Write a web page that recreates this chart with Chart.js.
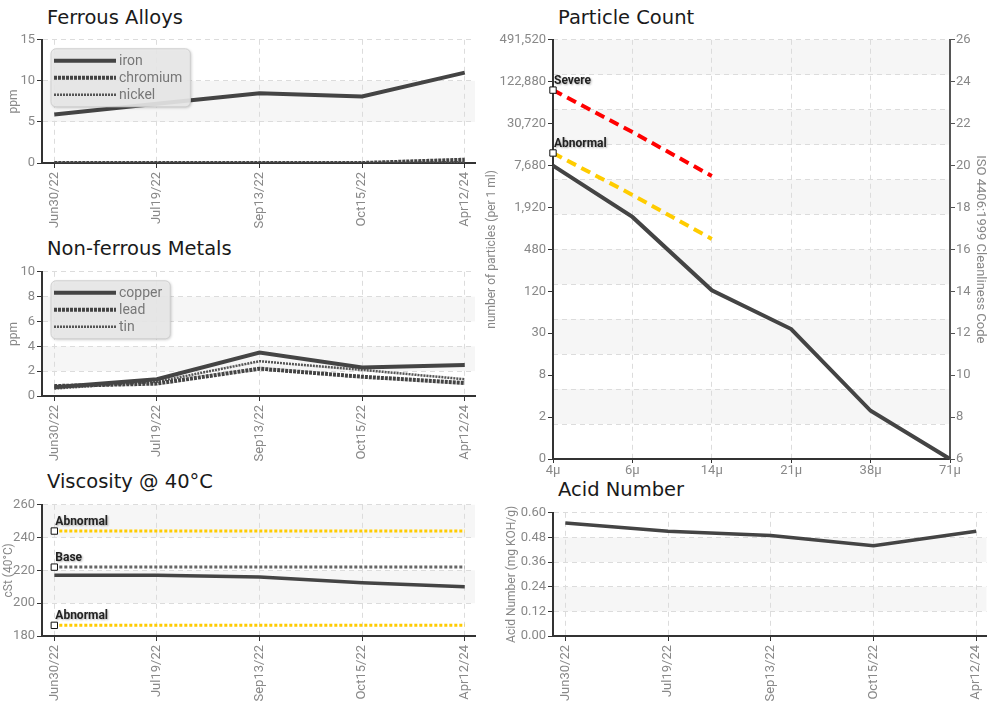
<!DOCTYPE html>
<html>
<head>
<meta charset="utf-8">
<title>Oil analysis trends</title>
<script src="https://cdn.jsdelivr.net/npm/chart.js@4.4.1/dist/chart.umd.min.js"></script>
<style>
body{margin:0;background:#fff;}
#page{position:relative;width:996px;height:714px;overflow:hidden;}
.ttl{position:absolute;font:19.5px "DejaVu Sans",sans-serif;color:#1a1a1a;line-height:20px;white-space:nowrap;}
canvas{position:absolute;}
</style>
</head>
<body>
<div id="page">
  <div class="ttl" style="left:47px;top:8px">Ferrous Alloys</div>
  <div class="ttl" style="left:47px;top:239px">Non-ferrous Metals</div>
  <div class="ttl" style="left:47px;top:472px">Viscosity @ 40°C</div>
  <div class="ttl" style="left:558px;top:8px">Particle Count</div>
  <div class="ttl" style="left:558px;top:480px">Acid Number</div>

  <canvas id="ferrous" width="490" height="200" style="left:0;top:30px"></canvas>
  <canvas id="nonferrous" width="490" height="200" style="left:0;top:262px"></canvas>
  <canvas id="viscosity" width="490" height="219" style="left:0;top:495px"></canvas>
  <canvas id="particle" width="526" height="450" style="left:470px;top:30px"></canvas>
  <canvas id="acid" width="526" height="211" style="left:470px;top:503px"></canvas>
</div>
<script>
// sample dates
var dates = ['Jun30/22', 'Jul19/22', 'Sep13/22', 'Oct15/22', 'Apr12/24'];

// ferrous alloys, ppm
var iron = [5.9, 7.2, 8.5, 8.1, 11.0];
var chromium = [0, 0, 0, 0, 0.4];
var nickel = [0, 0, 0, 0, 0.1];

// non-ferrous metals, ppm
var copper = [0.7, 1.35, 3.5, 2.3, 2.5];
var lead = [0.8, 1.0, 2.2, 1.55, 1.05];
var tin = [0.6, 1.15, 2.8, 2.1, 1.35];

// viscosity @ 40C, cSt
var viscosity = [217, 217, 216, 212.5, 210];
var viscHigh = [244, 244, 244, 244, 244];
var viscBase = [222, 222, 222, 222, 222];
var viscLow = [186.5, 186.5, 186.5, 186.5, 186.5];

// acid number, mg KOH/g
var acid = [0.55, 0.51, 0.49, 0.44, 0.51];

// particle count (values in ISO 4406 code units)
var sizes = ['4μ', '6μ', '14μ', '21μ', '38μ', '71μ'];
var particles = [20.0, 17.55, 14.05, 12.2, 8.3, 6.0];
var severe = [23.6, 21.6, 19.5];
var abnormal = [20.6, 18.6, 16.5];
var countLabels = ['0', '2', '8', '30', '120', '480', '1,920', '7,680', '30,720', '122,880', '491,520'];

var NARROW = 'Roboto,"Liberation Sans",sans-serif';
Chart.defaults.font.family = NARROW;
Chart.defaults.font.size = 13;
Chart.defaults.color = '#888';
Chart.defaults.animation = false;
Chart.defaults.responsive = false;
Chart.defaults.plugins.legend.display = false;
Chart.defaults.plugins.tooltip.enabled = false;
Chart.defaults.elements.line.tension = 0;
Chart.defaults.elements.point.radius = 0;

var GRID = '#dcdcdc';

// alternate grey bands between grid lines
var bands = {
  id: 'bands',
  beforeDraw: function(chart, args, opts) {
    var s = chart.scales[opts.scale || 'y'];
    var a = chart.chartArea, ctx = chart.ctx;
    ctx.save();
    ctx.fillStyle = '#f6f6f6';
    for (var i = 1; i + 1 < s.ticks.length; i += 2) {
      var y1 = s.getPixelForValue(s.ticks[i].value);
      var y2 = s.getPixelForValue(s.ticks[i + 1].value);
      ctx.fillRect(a.left, y2, a.right - a.left, y1 - y2);
    }
    ctx.restore();
  }
};

// legend box inside the plot
var boxLegend = {
  id: 'boxLegend',
  afterDatasetsDraw: function(chart, args, opts) {
    if (!opts.show) return;
    var ctx = chart.ctx, a = chart.chartArea;
    var items = chart.data.datasets;
    ctx.save();
    ctx.font = '14px ' + NARROW;
    var tw = 0;
    items.forEach(function(d) { tw = Math.max(tw, ctx.measureText(d.label).width); });
    var x = a.left + 9, y = a.top + 9, w = 68 + tw + 8, h = 24 + (items.length - 1) * 17;
    ctx.shadowColor = 'rgba(0,0,0,0.25)';
    ctx.shadowBlur = 3; ctx.shadowOffsetX = 1; ctx.shadowOffsetY = 1;
    ctx.beginPath();
    ctx.roundRect(x, y, w, h, 5);
    ctx.fillStyle = 'rgba(234,234,234,0.9)';
    ctx.fill();
    ctx.shadowColor = 'transparent';
    ctx.strokeStyle = '#cfcfcf';
    ctx.lineWidth = 1;
    ctx.stroke();
    items.forEach(function(d, i) {
      var ly = y + 12 + i * 17;
      ctx.beginPath();
      ctx.setLineDash(d.borderDash || []);
      ctx.lineWidth = d.borderWidth;
      ctx.strokeStyle = d.borderColor;
      ctx.moveTo(x + 3, ly);
      ctx.lineTo(x + 65, ly);
      ctx.stroke();
      ctx.setLineDash([]);
      ctx.fillStyle = '#777';
      ctx.textBaseline = 'middle';
      ctx.fillText(d.label, x + 68, ly + 1);
    });
    ctx.restore();
  }
};

// names of the limit lines, written at their first point
var limitLabels = {
  id: 'limitLabels',
  afterDatasetsDraw: function(chart) {
    var ctx = chart.ctx;
    chart.data.datasets.forEach(function(ds, i) {
      if (!ds.limit) return;
      var p = chart.getDatasetMeta(i).data[0];
      ctx.save();
      ctx.font = 'bold 12px ' + NARROW;
      ctx.fillStyle = '#222';
      ctx.shadowColor = 'rgba(0,0,0,0.3)';
      ctx.shadowBlur = 2; ctx.shadowOffsetX = 1; ctx.shadowOffsetY = 1;
      ctx.textBaseline = 'bottom';
      ctx.fillText(ds.label, p.x + 1, p.y - 3);
      ctx.restore();
    });
  }
};

function xy(arr) {
  return arr.map(function(v, i) { return {x: i, y: v}; });
}

function firstPoint(ctx) { return ctx.dataIndex === 0 ? 4.5 : 0; }

function limitLine(label, arr, color, width, dash, axis) {
  return {
    label: label, data: arr, limit: true, yAxisID: axis,
    borderColor: color, borderWidth: width, borderDash: dash,
    pointRadius: firstPoint, pointStyle: 'rect',
    pointBackgroundColor: '#fff', pointBorderColor: '#111', pointBorderWidth: 1
  };
}

function dateAxis(h) {
  return {
    type: 'linear', min: -0.12, max: 4.1,
    afterFit: function(s) { s.height = h; },
    ticks: {
      stepSize: 1, includeBounds: false, autoSkip: false,
      minRotation: 90, maxRotation: 90, padding: 4,
      callback: function(v) { return dates[v]; }
    },
    grid: { color: GRID, tickColor: '#333', tickLength: 5 },
    border: { color: '#333', width: 2, dash: [5, 4] }
  };
}

function valueAxis(min, max, step, title, titlePad, width, fmt) {
  var ax = {
    min: min, max: max,
    afterFit: function(s) { s.width = width; },
    ticks: { stepSize: step, padding: 2 },
    title: { display: true, text: title, font: { size: 12 }, padding: { top: titlePad, bottom: 0 } },
    grid: { color: GRID, tickColor: '#333', tickLength: 5 },
    border: { color: '#333', width: 2, dash: [5, 4] }
  };
  if (fmt) ax.ticks.callback = fmt;
  return ax;
}

function trendChart(id, datasets, yAxis, xHeight, legend, padRight) {
  return new Chart(document.getElementById(id), {
    type: 'line',
    data: { datasets: datasets },
    options: {
      layout: { padding: { top: 9, right: padRight } },
      scales: { x: dateAxis(xHeight), y: yAxis },
      plugins: { bands: { scale: 'y' }, boxLegend: { show: legend } }
    },
    plugins: [bands, boxLegend, limitLabels]
  });
}

trendChart('ferrous', [
  { label: 'iron', data: xy(iron), borderColor: '#444', borderWidth: 4 },
  { label: 'chromium', data: xy(chromium), borderColor: '#444', borderWidth: 4, borderDash: [3, 1] },
  { label: 'nickel', data: xy(nickel), borderColor: '#555', borderWidth: 2.5, borderDash: [2, 1] }
], valueAxis(0, 15, 5, 'ppm', 7, 42), 67, true, 15);

trendChart('nonferrous', [
  { label: 'copper', data: xy(copper), borderColor: '#444', borderWidth: 4 },
  { label: 'lead', data: xy(lead), borderColor: '#444', borderWidth: 4, borderDash: [3, 1] },
  { label: 'tin', data: xy(tin), borderColor: '#555', borderWidth: 2.5, borderDash: [2, 1] }
], valueAxis(0, 10, 2, 'ppm', 7, 42), 66, true, 15);

trendChart('viscosity', [
  { label: 'viscosity', data: xy(viscosity), borderColor: '#444', borderWidth: 3.5 },
  limitLine('Abnormal', xy(viscHigh), '#ffcc00', 3, [3, 2], 'y'),
  limitLine('Base', xy(viscBase), '#666', 3, [3, 2], 'y'),
  limitLine('Abnormal', xy(viscLow), '#ffcc00', 3, [3, 2], 'y')
], valueAxis(180, 260, 20, 'cSt (40°C)', 2, 42), 78, false, 15);

trendChart('acid', [
  { label: 'acid number', data: xy(acid), borderColor: '#444', borderWidth: 3.5 }
], valueAxis(0, 0.6, 0.12, 'Acid Number (mg KOH/g)', 35, 83, function(v) { return v.toFixed(2); }), 78, false, 9);

new Chart(document.getElementById('particle'), {
  type: 'line',
  data: {
    labels: sizes,
    datasets: [
      { label: 'particles', data: particles, yAxisID: 'code', borderColor: '#444', borderWidth: 4 },
      limitLine('Severe', severe, '#ff0000', 4, [10, 6], 'code'),
      limitLine('Abnormal', abnormal, '#ffcc00', 4, [10, 6], 'code')
    ]
  },
  options: {
    layout: { padding: { top: 9 } },
    scales: {
      x: {
        type: 'category', offset: false,
        afterFit: function(s) { s.height = 21; },
        ticks: { padding: 0, maxRotation: 0, autoSkip: false },
        grid: { color: GRID, tickColor: '#333', tickLength: 4 },
        border: { color: '#333', width: 2, dash: [5, 4] }
      },
      count: {
        position: 'left', min: 6, max: 26,
        afterFit: function(s) { s.width = 83; },
        ticks: { stepSize: 2, padding: 2, callback: function(v, i) { return countLabels[i]; } },
        title: { display: true, text: 'number of particles (per 1 ml)', font: { size: 12 }, padding: { top: 15, bottom: 0 } },
        grid: { drawOnChartArea: false, tickColor: '#333', tickLength: 5 },
        border: { color: '#333', width: 2 }
      },
      bandAxis: {
        position: 'left', min: 0, max: 12,
        afterFit: function(s) { s.width = 0; },
        ticks: { display: false, stepSize: 1 },
        grid: { color: GRID, drawTicks: false },
        border: { display: false, dash: [5, 4] }
      },
      code: {
        position: 'right', min: 6, max: 26,
        afterFit: function(s) { s.width = 46; },
        ticks: { stepSize: 2, padding: 1 },
        title: { display: true, text: 'ISO 4406:1999 Cleanliness Code', font: { size: 13 }, padding: { top: 8, bottom: 0 } },
        grid: { drawOnChartArea: false, tickColor: '#555', tickLength: 5 },
        border: { color: '#555', width: 2 }
      }
    },
    plugins: { bands: { scale: 'bandAxis' } }
  },
  plugins: [bands, limitLabels]
});
</script>
</body>
</html>
